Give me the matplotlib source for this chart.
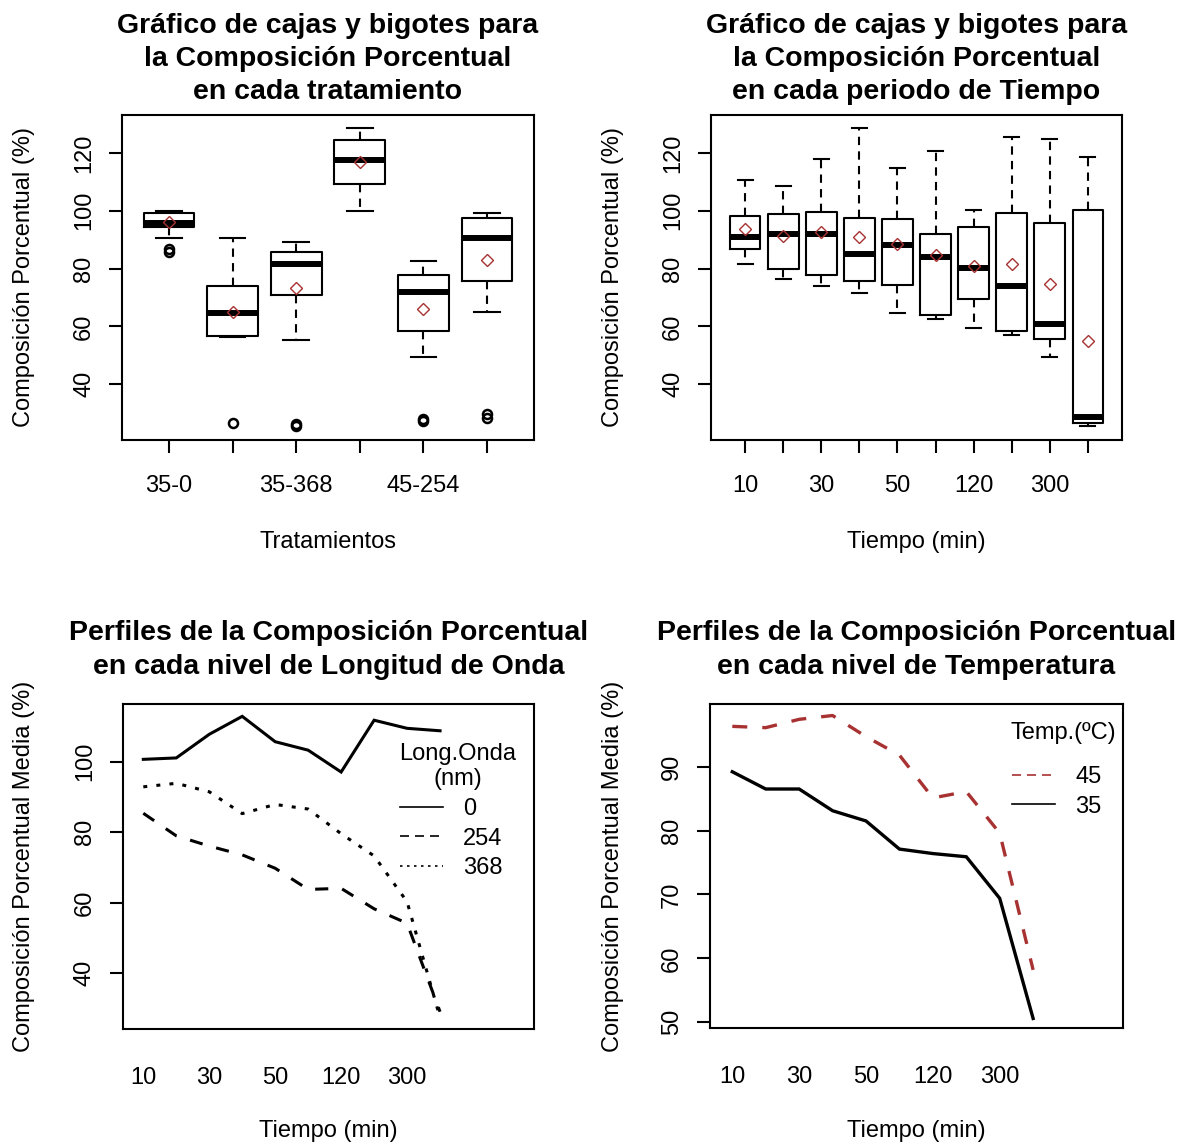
import matplotlib
matplotlib.use("Agg")
import matplotlib.pyplot as plt
from matplotlib.lines import Line2D

plt.rcParams['font.family'] = ['Liberation Sans', 'DejaVu Sans']

# ---------------- data ----------------
tratamientos = ["35-0", "35-254", "35-368", "45-0", "45-254", "45-368"]
trat_whislo = [90.7, 56.3, 55.2, 100.0, 49.4, 65.0]
trat_q1 = [94.3, 56.8, 70.7, 109.4, 58.3, 75.6]
trat_med = [95.9, 64.5, 81.4, 117.4, 72.0, 90.7]
trat_q3 = [99.3, 73.8, 85.6, 124.3, 77.6, 97.5]
trat_whishi = [100.0, 90.7, 89.3, 128.7, 82.5, 99.3]
trat_mean = [96.0, 64.8, 73.4, 116.9, 66.0, 82.8]
trat_fliers = [[85.8, 86.8], [26.7], [25.6, 26.2], [], [27.4, 28.1], [28.3, 29.6]]

tiempos = ["10", "20", "30", "40", "50", "60", "120", "180", "300", "360"]
t_whislo = [81.4, 76.4, 73.9, 71.4, 64.5, 62.6, 59.5, 57.0, 49.5, 25.4]
t_q1 = [86.9, 80.0, 77.6, 75.6, 74.4, 63.8, 69.4, 58.3, 55.7, 26.6]
t_med = [90.8, 91.8, 92.1, 85.2, 88.3, 83.9, 80.1, 73.9, 60.8, 28.5]
t_q3 = [98.0, 98.7, 99.4, 97.6, 97.0, 92.1, 94.4, 99.3, 95.6, 100.1]
t_whishi = [110.5, 108.6, 118.0, 128.6, 114.9, 120.5, 100.1, 125.6, 124.9, 118.6]
t_mean = [93.7, 91.4, 92.5, 91.0, 88.6, 84.7, 81.0, 81.7, 74.8, 54.9]

long_onda = ["0", "254", "368"]
media_0 = [100.7, 101.1, 107.8, 112.9, 105.7, 103.3, 97.1, 111.8, 109.5, 108.8]
media_254 = [85.4, 79.0, 76.1, 73.6, 69.8, 63.8, 64.1, 58.3, 54.2, 29.1]
media_368 = [92.9, 93.9, 91.5, 85.3, 87.9, 86.6, 79.6, 73.3, 60.3, 27.4]

temperaturas = ["45", "35"]
media_45 = [96.3, 96.1, 97.4, 98.0, 94.7, 91.8, 85.1, 86.1, 79.6, 58.2]
media_35 = [89.2, 86.5, 86.5, 83.1, 81.5, 77.1, 76.4, 75.9, 69.4, 50.6]

# ---------------- figure ----------------
W, H = 1188, 1146
fig = plt.figure(figsize=(W / 100, H / 100), dpi=100)
fig.patch.set_facecolor("white")

FS = 17
TFS = 20.5
LW = 1.5
RED = "#a83232"


def px_axes(l, t, r, b):
    return fig.add_axes([l / W, 1 - b / H, (r - l) / W, (b - t) / H])


def style(ax, xpad, xtick_len):
    for s in ax.spines.values():
        s.set_linewidth(LW)
        s.set_color("black")
    ax.tick_params(axis="both", direction="out", width=LW, labelsize=FS, colors="black")
    ax.tick_params(axis="y", length=9.4, pad=10, labelrotation=90)
    ax.tick_params(axis="x", length=xtick_len, pad=xpad)
    for lab in ax.get_yticklabels():
        lab.set_va("center")


def every_other(labels):
    return [lab if i % 2 == 0 else "" for i, lab in enumerate(labels)]


def title(ax, text, ycenter):
    pos = ax.get_position()
    fig.text(pos.x0 + pos.width / 2, 1 - ycenter / H, text, ha="center", va="center",
             fontsize=TFS, fontweight="bold", linespacing=1.35, multialignment="center")


def box_panel(ax, labels, whislo, q1, med, q3, whishi, mean, fliers):
    stats = []
    for i in range(len(labels)):
        stats.append(dict(whislo=whislo[i], q1=q1[i], med=med[i], q3=q3[i],
                          whishi=whishi[i], mean=mean[i],
                          fliers=fliers[i] if fliers is not None else []))
    n = len(labels)
    ax.bxp(stats, positions=range(1, n + 1), widths=0.8, capwidths=0.4,
           showmeans=True, showfliers=True, patch_artist=False,
           boxprops=dict(linewidth=LW, color="black"),
           medianprops=dict(linewidth=4.3, color="black", solid_capstyle="butt"),
           whiskerprops=dict(linewidth=LW, color="black", linestyle=(0, (4, 3))),
           capprops=dict(linewidth=LW, color="black"),
           flierprops=dict(marker="o", markerfacecolor="none", markeredgecolor="black",
                           markersize=6.5, markeredgewidth=1.8),
           meanprops=dict(marker="D", markerfacecolor="none", markeredgecolor=RED,
                          markersize=6.3, markeredgewidth=1.0))
    ax.set_xticks(range(1, n + 1))
    ax.set_xticklabels(every_other(labels))


# ---------- top-left: boxplot by treatment ----------
ax1 = px_axes(122, 115, 534, 440)
box_panel(ax1, tratamientos, trat_whislo, trat_q1, trat_med, trat_q3, trat_whishi,
          trat_mean, trat_fliers)
ax1.set_xlim(0.26, 6.74)
ax1.set_ylim(20.7, 133.1)
ax1.set_yticks([40, 60, 80, 100, 120])
style(ax1, 15.5, 9.4)
title(ax1, "Gráfico de cajas y bigotes para\nla Composición Porcentual\nen cada tratamiento", 59)
fig.text(328 / W, 1 - 542 / H, "Tratamientos", ha="center", va="center", fontsize=FS)
fig.text(24 / W, 1 - 277 / H, "Composición Porcentual (%)", ha="center", va="center",
         rotation=90, fontsize=FS)

# ---------- top-right: boxplot by time ----------
ax2 = px_axes(711, 115, 1122, 440)
box_panel(ax2, tiempos, t_whislo, t_q1, t_med, t_q3, t_whishi, t_mean, None)
ax2.set_xlim(0.1, 10.9)
ax2.set_ylim(20.7, 133.1)
ax2.set_yticks([40, 60, 80, 100, 120])
style(ax2, 15.5, 9.4)
title(ax2, "Gráfico de cajas y bigotes para\nla Composición Porcentual\nen cada periodo de Tiempo", 59)
fig.text(916.5 / W, 1 - 542 / H, "Tiempo (min)", ha="center", va="center", fontsize=FS)
fig.text(613 / W, 1 - 277 / H, "Composición Porcentual (%)", ha="center", va="center",
         rotation=90, fontsize=FS)

# ---------- bottom-left: profiles by wavelength ----------
x = list(range(1, len(tiempos) + 1))
ax3 = px_axes(122.7, 704, 534, 1029)
ax3.plot(x, media_0, color="black", lw=2.2, solid_joinstyle="miter")
ax3.plot(x, media_254, color="black", lw=2.2, linestyle=(0, (4.3, 4.6)), dash_capstyle="butt")
ax3.plot(x, media_368, color="black", lw=2.2, linestyle=(0, (1.3, 3.0)), dash_capstyle="butt")
ax3.set_xlim(0.375, 12.85)
ax3.set_ylim(24.2, 116.4)
ax3.set_yticks([40, 60, 80, 100])
ax3.set_xticks(x)
ax3.set_xticklabels(every_other(tiempos))
style(ax3, 27, 0)
h3 = [Line2D([], [], color="black", lw=1.2),
      Line2D([], [], color="black", lw=1.2, linestyle=(0, (5.4, 3.6))),
      Line2D([], [], color="black", lw=1.2, linestyle=(0, (1.5, 2.7)))]
ax3.legend(h3, long_onda, loc="upper left", bbox_to_anchor=(0.674, 0.71), frameon=False,
           fontsize=FS, borderpad=0, borderaxespad=0, handlelength=1.82,
           handletextpad=0.85, labelspacing=0.31)
ax3.text(0.815, 0.808, "Long.Onda\n(nm)", transform=ax3.transAxes, ha="center",
         va="center", fontsize=FS, linespacing=1.17, multialignment="center")
title(ax3, "Perfiles de la Composición Porcentual\nen cada nivel de Longitud de Onda", 650)
fig.text(328 / W, 1 - 1131 / H, "Tiempo (min)", ha="center", va="center", fontsize=FS)
fig.text(24 / W, 1 - 866 / H, "Composición Porcentual Media (%)", ha="center", va="center",
         rotation=90, fontsize=FS)

# ---------- bottom-right: profiles by temperature ----------
ax4 = px_axes(710, 704, 1122.7, 1028.3)
ax4.plot(x, media_45, color=RED, lw=2.4, linestyle=(0, (4.5, 4.5)), dash_capstyle="butt")
ax4.plot(x, media_35, color="black", lw=2.4, solid_joinstyle="miter")
ax4.set_xlim(0.333, 12.68)
ax4.set_ylim(49.06, 99.8)
ax4.set_yticks([50, 60, 70, 80, 90])
ax4.set_xticks(x)
ax4.set_xticklabels(every_other(tiempos))
style(ax4, 27, 0)
h4 = [Line2D([], [], color=RED, lw=1.2, linestyle=(0, (5.4, 3.6))),
      Line2D([], [], color="black", lw=1.2)]
ax4.legend(h4, temperaturas, loc="upper left", bbox_to_anchor=(0.732, 0.8076), frameon=False,
           fontsize=FS, borderpad=0, borderaxespad=0, handlelength=1.82,
           handletextpad=0.85, labelspacing=0.31)
ax4.text(0.857, 0.911, "Temp.(ºC)", transform=ax4.transAxes, ha="center", va="center",
         fontsize=FS)
title(ax4, "Perfiles de la Composición Porcentual\nen cada nivel de Temperatura", 650)
fig.text(916.5 / W, 1 - 1131 / H, "Tiempo (min)", ha="center", va="center", fontsize=FS)
fig.text(613 / W, 1 - 866 / H, "Composición Porcentual Media (%)", ha="center", va="center",
         rotation=90, fontsize=FS)

fig.savefig("out.png", dpi=100, facecolor="white")
